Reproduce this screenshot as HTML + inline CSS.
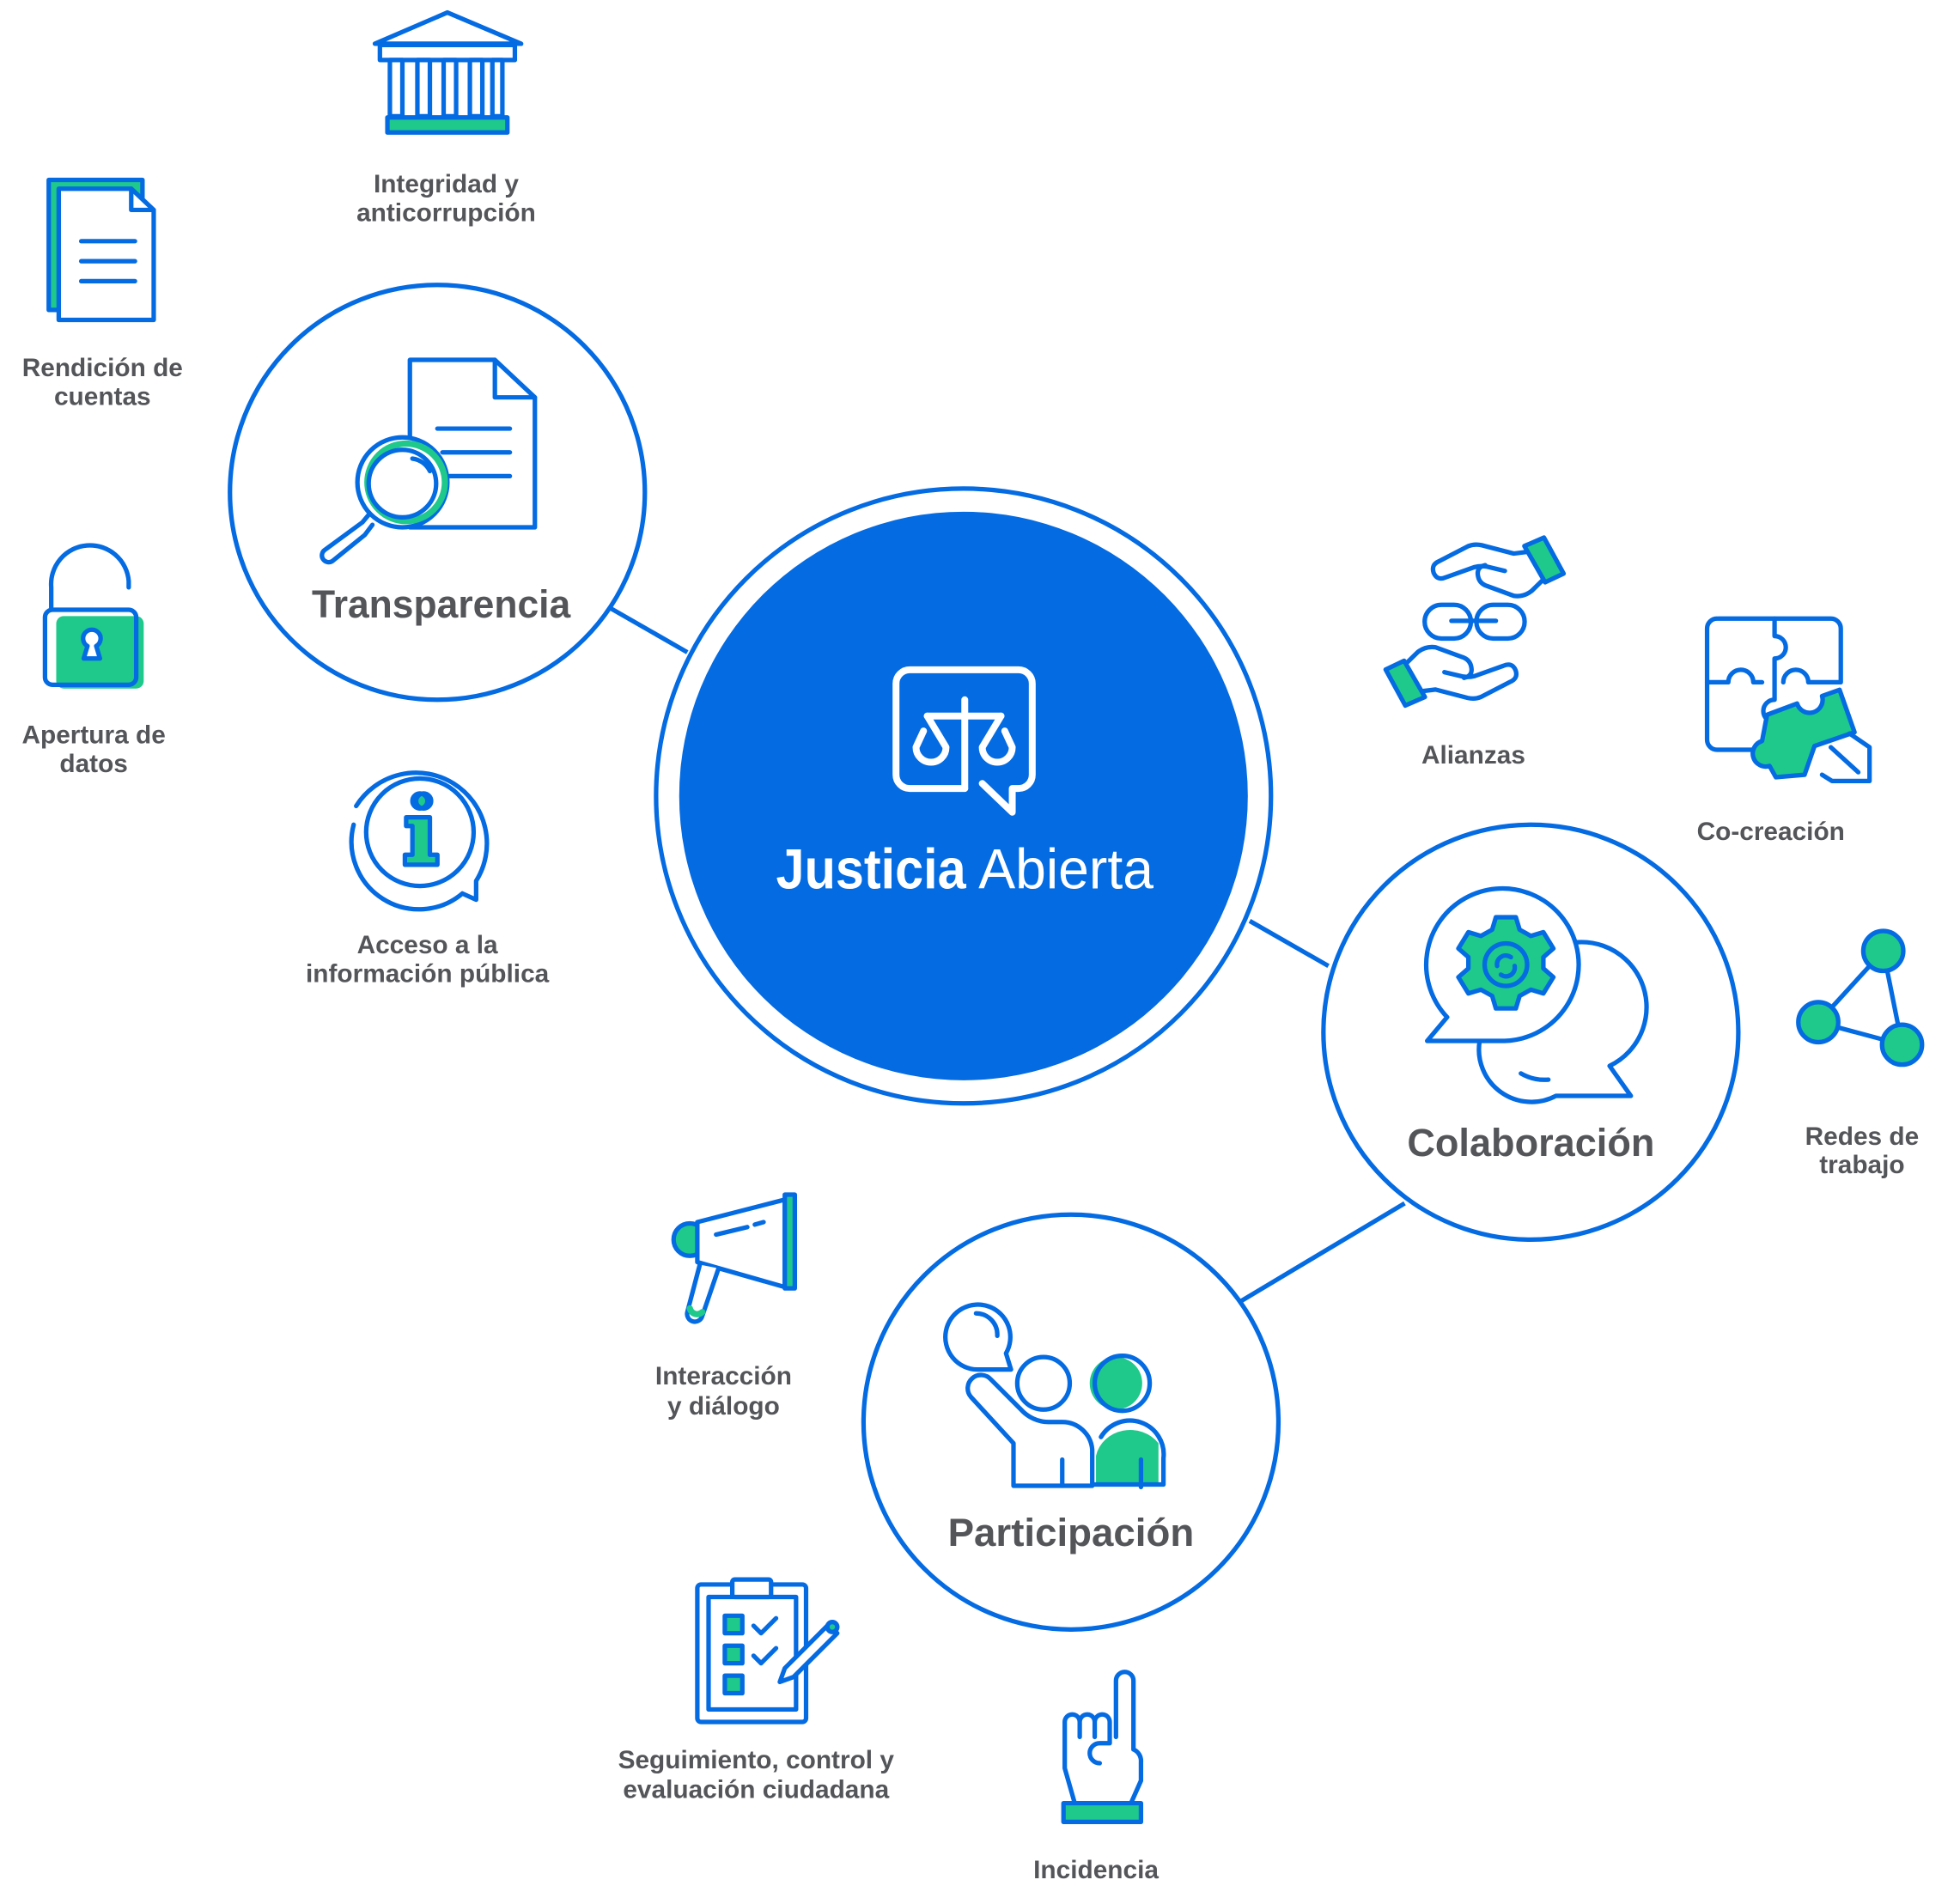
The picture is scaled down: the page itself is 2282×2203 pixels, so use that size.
<!DOCTYPE html>
<html><head><meta charset="utf-8"><style>
html,body{margin:0;padding:0;background:#fff;}
svg{display:block}
text{font-family:"Liberation Sans",sans-serif;fill:#545559;font-weight:bold;text-anchor:middle;stroke:none}
</style></head><body>
<svg width="2282" height="2203" viewBox="0 0 2282 2203" xmlns="http://www.w3.org/2000/svg">
<g transform="scale(1.455)" fill="none" stroke="#046be2" stroke-width="3.6" stroke-linejoin="round" stroke-linecap="round">

<!-- connectors -->
<line x1="489" y1="487" x2="550" y2="522" stroke-linecap="butt"/>
<line x1="1000" y1="737" x2="1063" y2="773" stroke-linecap="butt"/>
<line x1="990" y1="1043" x2="1124" y2="963" stroke-linecap="butt"/>

<!-- main circles -->
<circle cx="771" cy="637" r="246"/>
<circle cx="771" cy="637" r="227.5" fill="#046be2" stroke="none"/>
<circle cx="350" cy="394" r="166" fill="#fff"/>
<circle cx="1225" cy="826" r="166" fill="#fff"/>
<circle cx="857" cy="1138" r="166" fill="#fff"/>

<!-- central icon -->
<g stroke="#fff" stroke-width="5.5">
<path d="M772 631 H728 a11 11 0 0 1 -11 -11 V547 a11 11 0 0 1 11 -11 H815 a11 11 0 0 1 11 11 V620 a11 11 0 0 1 -11 11 H810 V650 L786 627"/>
<line x1="772" y1="560" x2="772" y2="631"/>
<line x1="742" y1="573" x2="801" y2="573"/>
<path d="M742 573 L757 598 A12 12 0 1 1 733 598 L739 585"/>
<path d="M801 573 L786 598 A12 12 0 1 0 810 598 L804 585"/>
</g>
<text x="697" y="711" font-size="45" style="fill:#fff" textLength="152" lengthAdjust="spacingAndGlyphs">Justicia</text>
<text x="853" y="711" font-size="45" style="fill:#fff;font-weight:normal" textLength="140" lengthAdjust="spacingAndGlyphs">Abierta</text>

<!-- circle titles -->
<text x="353" y="494" font-size="31" textLength="207" lengthAdjust="spacingAndGlyphs">Transparencia</text>
<text x="1225" y="925" font-size="31" textLength="198" lengthAdjust="spacingAndGlyphs">Colaboración</text>
<text x="857" y="1237" font-size="31" textLength="197" lengthAdjust="spacingAndGlyphs">Participación</text>

<!-- Transparencia icon -->
<path d="M328 288 H396 L428 318 V422 H328 Z" fill="#fff"/>
<path d="M396 288 V318 H428"/>
<line x1="350" y1="343" x2="408" y2="343"/><line x1="354" y1="362" x2="408" y2="362"/><line x1="360" y1="381" x2="408" y2="381"/>
<circle cx="322" cy="386" r="36" fill="#fff"/>
<circle cx="325" cy="386" r="31" stroke="#1ec98b" stroke-width="5"/>
<circle cx="322" cy="387" r="27"/>
<path d="M330 367 a18 18 0 0 1 14 10"/>
<path d="M295 412 L290 418 L260 440 a5 5 0 0 0 6 9 L292 428 L298 420"/>

<!-- Integridad bank -->
<path d="M300 35 L358 10 L417 35 Z" fill="#fff"/>
<rect x="304" y="36" width="108" height="12" fill="#fff"/>
<rect x="312" y="48" width="10" height="45"/><rect x="334" y="48" width="10" height="45"/><rect x="355" y="48" width="10" height="45"/><rect x="376" y="48" width="10" height="45"/><rect x="394" y="48" width="8" height="45"/>
<rect x="310" y="94" width="96" height="12" fill="#1ec98b"/>
<text x="357" y="154" font-size="20.5">Integridad y</text>
<text x="357" y="177" font-size="20.5">anticorrupción</text>

<!-- Rendición document -->
<path d="M39 144 H114 V248 H39 Z" fill="#1ec98b"/>
<path d="M47 151 H105 L123 168 V256 H47 Z" fill="#fff"/>
<path d="M105 151 V168 H123"/>
<line x1="65" y1="193" x2="108" y2="193"/><line x1="65" y1="209" x2="108" y2="209"/><line x1="65" y1="225" x2="108" y2="225"/>
<text x="82" y="301" font-size="20.5">Rendición de</text>
<text x="82" y="324" font-size="20.5">cuentas</text>

<!-- Padlock -->
<path d="M41 488 V470 a31 31 0 0 1 62 -5 V470"/>
<rect x="45" y="493" width="70" height="58" rx="6" fill="#1ec98b" stroke="none"/>
<rect x="36" y="488" width="73" height="60" rx="6"/>
<path d="M67 527 L70 517 a7 7 0 1 1 7 0 L80 527 Z" fill="#fff"/>
<text x="75" y="595" font-size="20.5">Apertura de</text>
<text x="75" y="618" font-size="20.5">datos</text>

<!-- Info bubble -->
<path d="M285 645 A54 54 0 1 1 381 705 V720 L370 715 A54 54 0 0 1 283 660"/>
<circle cx="336" cy="666" r="43"/>
<circle cx="339" cy="641" r="6" fill="#1ec98b"/>
<circle cx="336" cy="641" r="6"/>
<path d="M325 654 H344 V684 H350 V692 H324 V684 H330 V661 H325 Z" fill="#1ec98b"/>
<text x="342" y="763" font-size="20.5">Acceso a la</text>
<text x="342" y="786" font-size="20.5">información pública</text>

<!-- Alianzas handshake -->
<g id="hand">
<path d="M1222.7 441.6 L1211.3 443 L1185.6 436.3 Q1180 435 1175 437 L1151.4 449.2 Q1145 452 1147.2 458.4 Q1150 465 1157 462 L1180 453.8 Q1185 452.5 1190 453.5 L1204.2 456.9"/>
<path d="M1188.5 452.3 Q1181 454 1182.8 461.5 Q1184 467 1190 469 L1211.3 476.8 Q1219 478 1225.5 473 L1234.1 464.6"/>
<path d="M1219.8 437 L1235.5 430.2 L1251.2 459 L1236.4 466 Z" fill="#1ec98b"/>
</g>
<use href="#hand" transform="rotate(180 1180 497.4)"/>
<rect x="1140" y="484" width="37" height="27" rx="13.5"/>
<rect x="1181.4" y="484" width="38.6" height="27" rx="13.5"/>
<line x1="1161.4" y1="496.8" x2="1197" y2="496.8"/>
<text x="1179" y="611" font-size="20.5">Alianzas</text>

<!-- Co-creación puzzle -->
<path d="M1375 495 H1465 a8 8 0 0 1 8 8 V546 H1447 a10 10 0 1 0 -20 0 M1410 546 H1403 a10 10 0 1 0 -20 0 H1366 V503 a8 8 0 0 1 8 -8"/>
<path d="M1366 546 V592 a8 8 0 0 0 8 8 H1410"/>
<path d="M1420 495 V509 a9 9 0 1 1 0 18 V560 a9 9 0 0 0 0 18"/>
<path d="M1414 572 L1438 563 a10 10 0 1 0 20 -6 L1472 552 L1484 586 L1452 597 L1444 620 L1421 622 L1416 613 a10 10 0 1 1 -6 -20 Z" fill="#1ec98b"/>
<path d="M1480 587 L1496 598 V625 H1466 L1458 620"/>
<line x1="1465" y1="598" x2="1487" y2="618"/>
<text x="1417" y="672" font-size="20.5">Co-creación</text>

<!-- Redes de trabajo -->
<line x1="1507" y1="761" x2="1455" y2="818"/><line x1="1455" y1="818" x2="1522" y2="836"/><line x1="1507" y1="761" x2="1522" y2="836"/>
<circle cx="1507" cy="761" r="16" fill="#1ec98b"/>
<circle cx="1455" cy="818" r="16" fill="#1ec98b"/>
<circle cx="1522" cy="836" r="16" fill="#1ec98b"/>
<text x="1490" y="916" font-size="20.5">Redes de</text>
<text x="1490" y="939" font-size="20.5">trabajo</text>

<!-- Colaboración icon -->
<path d="M1243 759 A42 42 0 0 1 1288 853 L1305 877 H1245 A42 42 0 0 1 1184 833"/>
<path d="M1217 859 a38 38 0 0 0 22 5"/>
<path d="M1158 814 A61 61 0 1 1 1204 833 H1142 Z" fill="#fff"/>
<path d="M1197 734 h16 l3 10 l9 5 l10 -3 l8 13 l-8 7 v9 l8 7 l-8 13 l-10 -3 l-9 5 l-3 10 h-16 l-3 -10 l-9 -5 l-10 3 l-8 -13 l8 -7 v-9 l-8 -7 l8 -13 l10 3 l9 -5 z" fill="#1ec98b"/>
<circle cx="1205" cy="772" r="17"/>
<path d="M1198 773 a7 7 0 0 1 11 -7 M1212 773 a7 7 0 0 1 -11 7"/>

<!-- Megaphone -->
<circle cx="552" cy="992" r="13" fill="#1ec98b"/>
<path d="M558 978 L628 960 V1030 L558 1010 Z" fill="#fff"/>
<rect x="628" y="956" width="8" height="75" fill="#1ec98b"/>
<path d="M573 988 L598 982 M604 980 L611 978"/>
<path d="M560 1012 L550 1050 a6 6 0 0 0 12 3 L575 1015" fill="#fff"/>
<path d="M552 1047 a6 6 0 0 0 10 3" stroke="#1ec98b" stroke-width="5"/>
<text x="579" y="1108" font-size="20.5">Interacción</text>
<text x="579" y="1132" font-size="20.5">y diálogo</text>

<!-- Participación icon -->
<path d="M809 1096 H782 A26 26 0 1 1 805 1083 Z"/>
<path d="M781 1051 a17 17 0 0 1 17 18"/>
<circle cx="835" cy="1107" r="21"/>
<circle cx="893" cy="1107" r="21" fill="#1ec98b" stroke="none"/>
<circle cx="898" cy="1107" r="22"/>
<path d="M877 1188 V1165 a28 26 0 0 1 50 -10 V1188 Z" fill="#1ec98b" stroke="none"/>
<path d="M874 1188 H931 V1167 a27 27 0 0 0 -50 -17"/>
<line x1="913" y1="1190" x2="913" y2="1168"/>
<path d="M777 1118 L811 1155 V1189 H874 V1160 a24 24 0 0 0 -24 -22 H839 a30 30 0 0 1 -22 -10 L793 1104 a8 8 0 0 0 -16 14" fill="#fff"/>
<line x1="850" y1="1168" x2="850" y2="1189"/>

<!-- Clipboard -->
<rect x="558" y="1268" width="87" height="110" rx="3"/>
<rect x="567" y="1278" width="70" height="90"/>
<rect x="586" y="1264" width="31" height="14" rx="2" fill="#fff"/>
<rect x="580" y="1293" width="14" height="14" fill="#1ec98b"/>
<rect x="580" y="1317" width="14" height="14" fill="#1ec98b"/>
<rect x="580" y="1341" width="14" height="14" fill="#1ec98b"/>
<path d="M603 1301 l6 6 l12 -12 M603 1325 l6 6 l12 -12"/>
<path d="M628 1335 L663 1300 L670 1307 L635 1342 L624 1346 Z" fill="#fff"/>
<circle cx="666" cy="1302" r="4" fill="#1ec98b"/>
<text x="605" y="1415" font-size="20.5">Seguimiento, control y</text>
<text x="605" y="1439" font-size="20.5">evaluación ciudadana</text>

<!-- Incidencia hand -->
<path d="M893 1390 V1345 a7 7 0 0 1 14 0 V1400 a10 10 0 0 1 6 10 V1425 L905 1443 H860 L852 1415 V1378 a6 6 0 0 1 12 0 V1390 M864 1378 a6 6 0 0 1 12 0 V1390 M876 1378 a6 6 0 0 1 12 0 V1395 H880 a8 8 0 0 0 0 16" fill="#fff"/>
<rect x="851" y="1443" width="62" height="15" fill="#1ec98b"/>
<text x="877" y="1503" font-size="20.5">Incidencia</text>
</g>
</svg>
</body></html>
